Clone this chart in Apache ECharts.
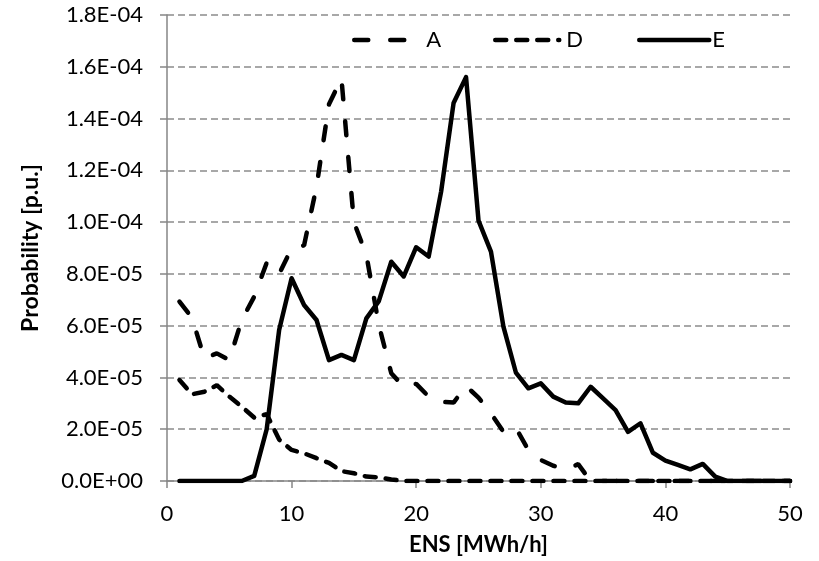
<!DOCTYPE html>
<html lang="en" style="height: 100%">
<head>
    <meta charset="UTF-8">
    <script src="https://cdn.jsdelivr.net/npm/echarts@6/dist/echarts.min.js"></script>
</head>
<body style="height: 100%; margin: 0; background: #fff">
<div id="container" style="width: 819px; height: 561px"></div>
<script>
    // ENS values 1..50 MWh/h
    var ens = [];
    for (var i = 1; i <= 50; i++) ens.push(i);

    var seriesA = [6.93e-5, 6.31e-5, 4.74e-5, 4.93e-5, 4.67e-5, 6.22e-5, 7.12e-5, 8.43e-5, 8.0e-5, 8.99e-5,
        9.1e-5, 1.137e-4, 1.455e-4, 1.555e-4, 1.0e-4, 8.73e-5, 6.03e-5, 4.16e-5, 3.64e-5, 3.75e-5,
        3.26e-5, 3.06e-5, 3.03e-5, 3.67e-5, 3.22e-5, 2.61e-5, 1.9e-5, 2.05e-5, 1.2e-5, 0.81e-5,
        0.59e-5, 0.45e-5, 0.65e-5, 0, 0, 0, 0, 0, 0, 0,
        0, 0, 0, 0, 0, 0, 0, 0, 0, 0];

    var seriesD = [3.9e-5, 3.35e-5, 3.45e-5, 3.7e-5, 3.26e-5, 2.87e-5, 2.45e-5, 2.58e-5, 1.6e-5, 1.2e-5,
        1.07e-5, 0.88e-5, 0.7e-5, 0.38e-5, 0.3e-5, 0.17e-5, 0.14e-5, 0.06e-5, 0, 0,
        0, 0, 0, 0, 0, 0, 0, 0, 0, 0,
        0, 0, 0, 0, 0, 0, 0, 0, 0, 0,
        0, 0, 0, 0, 0, 0, 0, 0, 0, 0];

    var seriesE = [0, 0, 0, 0, 0, 0, 0.2e-5, 2.0e-5, 5.83e-5, 7.83e-5,
        6.8e-5, 6.22e-5, 4.67e-5, 4.87e-5, 4.67e-5, 6.28e-5, 6.95e-5, 8.47e-5, 7.9e-5, 9.03e-5,
        8.67e-5, 1.118e-4, 1.46e-4, 1.56e-4, 1.006e-4, 8.86e-5, 5.96e-5, 4.19e-5, 3.58e-5, 3.77e-5,
        3.26e-5, 3.03e-5, 3.0e-5, 3.64e-5, 3.19e-5, 2.74e-5, 1.9e-5, 2.23e-5, 1.09e-5, 0.79e-5,
        0.62e-5, 0.45e-5, 0.66e-5, 0.17e-5, 0, 0, 0, 0, 0, 0];

    var seriesNames = ['A', 'D', 'E'];

    function pairs(vals) {
        return vals.map(function (v, k) { return [ens[k], v]; });
    }

    function sci(v) {
        var s = Number(v).toExponential(1).toUpperCase();
        return s.replace(/E([+-])(\d)$/, 'E$10$2');
    }

    var font = 'Lato, "Open Sans", sans-serif';
    var axisGray = '#868686';

    function legendFor(name, left, width, pad) {
        return {
            data: [name], left: left, top: 24, itemWidth: width, itemHeight: 20,
            itemStyle: {opacity: 0},
            lineStyle: {width: 4.5, cap: 'round'},
            textStyle: {fontFamily: font, fontSize: 22, color: '#000', padding: [0, 0, 0, pad]}
        };
    }

    var myChart = echarts.init(document.getElementById('container'), null, {renderer: 'canvas'});

    var option = {
        backgroundColor: '#ffffff',
        animation: false,
        grid: {left: 167, right: 29, top: 15, bottom: 80},
        legend: [
            legendFor('A', 347, 61, 6),
            legendFor('D', 488, 64, 2),
            legendFor('E', 632, 70, -2)
        ],
        xAxis: {
            type: 'value',
            min: 0,
            max: 50,
            interval: 10,
            name: 'ENS [MWh/h]',
            nameLocation: 'middle',
            nameGap: 53,
            nameTextStyle: {fontFamily: font, fontSize: 22, fontWeight: 'bold', color: '#000'},
            axisLine: {show: true, lineStyle: {color: axisGray, width: 1.5}},
            axisTick: {show: true, length: 7, lineStyle: {color: axisGray, width: 1.5}},
            axisLabel: {fontFamily: font, fontSize: 22, color: '#000', margin: 22},
            splitLine: {show: false}
        },
        yAxis: {
            type: 'value',
            min: 0,
            max: 1.8e-4,
            interval: 2e-5,
            name: 'Probability [p.u.]',
            nameLocation: 'middle',
            nameGap: 125,
            nameTextStyle: {fontFamily: font, fontSize: 23, fontWeight: 'bold', color: '#000'},
            axisLine: {show: true, lineStyle: {color: axisGray, width: 1.5}},
            axisTick: {show: true, length: 7, lineStyle: {color: axisGray, width: 1.5}},
            axisLabel: {fontFamily: font, fontSize: 22, color: '#000', margin: 24, formatter: sci},
            splitLine: {show: true, lineStyle: {color: '#8c8c8c', width: 1.5, type: [7, 4]}}
        },
        series: [
            {
                name: seriesNames[0], type: 'line', data: pairs(seriesA), symbol: 'none',
                lineStyle: {color: '#000', width: 4.5, type: [14, 22], cap: 'round'},
                itemStyle: {color: '#000'}
            },
            {
                name: seriesNames[1], type: 'line', data: pairs(seriesD), symbol: 'none',
                lineStyle: {color: '#000', width: 4.5, type: [11, 10], cap: 'round'},
                itemStyle: {color: '#000'}
            },
            {
                name: seriesNames[2], type: 'line', data: pairs(seriesE), symbol: 'none',
                lineStyle: {color: '#000', width: 4.5, cap: 'round', join: 'round'},
                itemStyle: {color: '#000'}
            }
        ]
    };

    myChart.setOption(option);
</script>
</body>
</html>
